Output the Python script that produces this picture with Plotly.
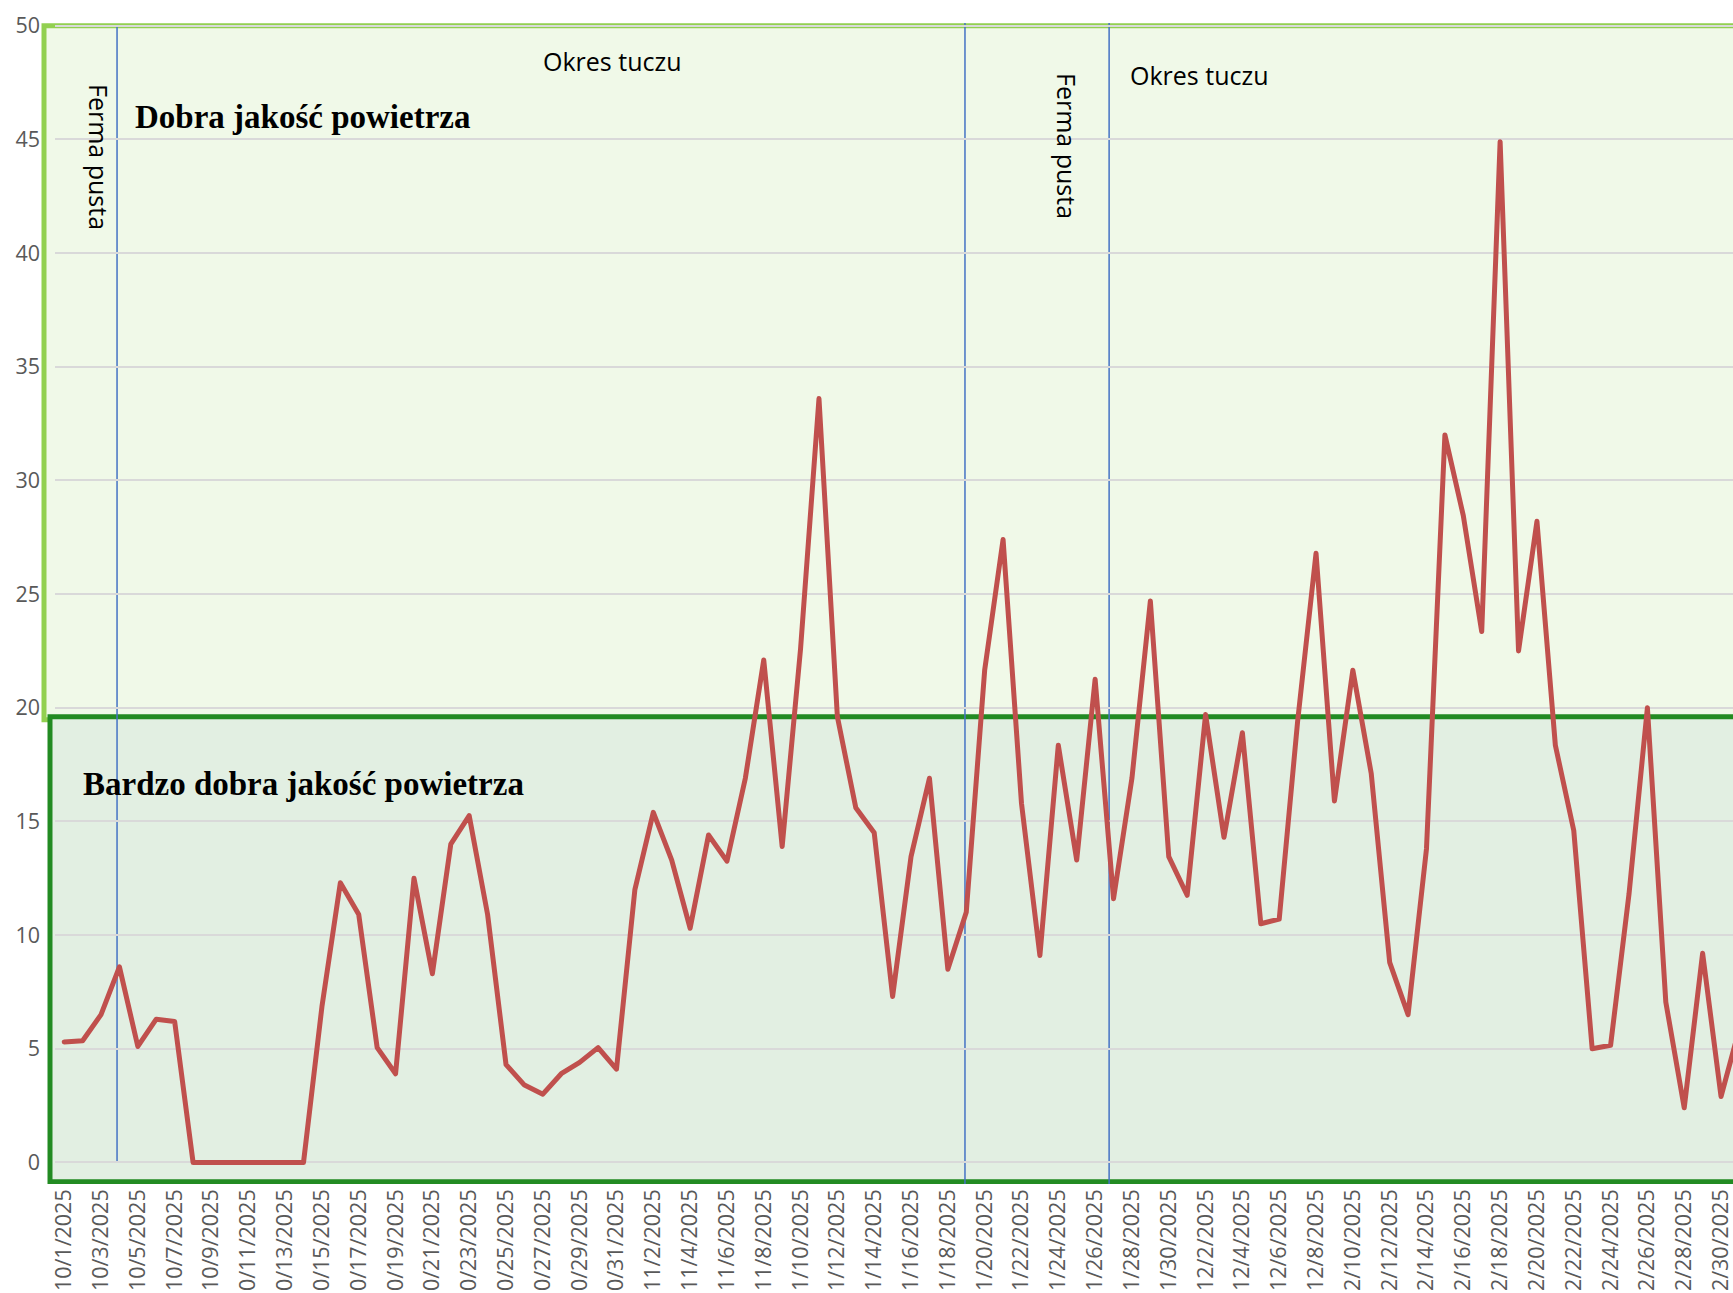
import plotly.graph_objects as go

# ---- data ----
month_days = [(10, 31), (11, 30), (12, 31)]
categories = [f"{m}/{d}/2025" for m, n in month_days for d in range(1, n + 1)]

pm_values = [
    5.3, 5.35, 6.5, 8.6, 5.1, 6.3, 6.2,
    0, 0, 0, 0, 0, 0, 0,
    6.85, 12.3, 10.9, 5.05, 3.9, 12.5, 8.3, 14.0, 15.25, 10.9, 4.3, 3.4, 3.0, 3.9, 4.4, 5.05, 4.1,
    12.0, 15.4, 13.3, 10.3, 14.4, 13.25, 16.9, 22.1, 13.9, 22.6, 33.6, 19.6, 15.6, 14.5, 7.3,
    13.45, 16.9, 8.5, 11.0, 21.65, 27.4, 15.8, 9.1, 18.35, 13.3, 21.25, 11.6, 16.9, 24.7, 13.45,
    11.75,
    19.7, 14.3, 18.9, 10.5, 10.7, 19.4, 26.8, 15.9, 21.65, 17.1, 8.8, 6.5, 13.8, 32.0, 28.45,
    23.35, 44.9, 22.5, 28.2, 18.35, 14.6, 5.0, 5.15, 11.8, 20.0, 7.05, 2.4, 9.2, 2.9, 5.9,
]

tick_labels = categories[::2]
y_ticks = [0, 5, 10, 15, 20, 25, 30, 35, 40, 45, 50]

# quality bands (value limits)
good_band = (19.47, 50.0)
very_good_band = (-0.85, 19.6)

# events (category-index positions of the vertical markers)
event_positions = [2.87, 48.93, 56.76]

W, H = 1733, 1293
ML, MR, MT, MB = 55, 0, 23, 109
PW = W - ML - MR
PH = H - MT - MB


def px_x(px):
    return (px - ML) / PW


def px_y(py):
    return (H - MB - py) / PH


fig = go.Figure()
fig.add_trace(go.Scatter(
    x=categories, y=pm_values, mode="lines",
    line=dict(color="#C0504D", width=5),
    showlegend=False, hoverinfo="skip",
))

shapes = [
    dict(type="rect", xref="paper", yref="y", x0=px_x(44), x1=1.02,
         y0=good_band[0], y1=good_band[1],
         fillcolor="#F0F9E8", line=dict(color="#92D050", width=5), layer="below"),
    dict(type="rect", xref="paper", yref="y", x0=px_x(50), x1=1.02,
         y0=very_good_band[0], y1=very_good_band[1],
         fillcolor="#E2EFE2", line=dict(color="#228B22", width=5), layer="below"),
    dict(type="line", xref="x", yref="y", x0=event_positions[0], x1=event_positions[0],
         y0=0, y1=50, line=dict(color="#4472C4", width=1.5), layer="below"),
    dict(type="line", xref="x", yref="y", x0=event_positions[1], x1=event_positions[1],
         y0=-1.2, y1=50.2, line=dict(color="#4472C4", width=1.5), layer="below"),
    dict(type="line", xref="x", yref="y", x0=event_positions[2], x1=event_positions[2],
         y0=-1.2, y1=50.2, line=dict(color="#4472C4", width=1.5), layer="below"),
]

sans = "Open Sans"
annotations = [
    dict(text="Ferma pusta", textangle=90, x=px_x(99), y=px_y(157),
         font=dict(family=sans, size=25, color="black")),
    dict(text="Ferma pusta", textangle=90, x=px_x(1067), y=px_y(146),
         font=dict(family=sans, size=25, color="black")),
    dict(text="Okres tuczu", x=px_x(612), y=px_y(61),
         font=dict(family=sans, size=25, color="black")),
    dict(text="Okres tuczu", x=px_x(1199), y=px_y(75),
         font=dict(family=sans, size=25, color="black")),
    dict(text="<b>Dobra jakość powietrza</b>", x=px_x(133), y=px_y(117), xanchor="left",
         font=dict(family="Liberation Serif", size=33, color="black")),
    dict(text="<b>Bardzo dobra jakość powietrza</b>", x=px_x(81), y=px_y(784), xanchor="left",
         font=dict(family="Liberation Serif", size=33, color="black")),
]
for a in annotations:
    a.update(xref="paper", yref="paper", showarrow=False)
    a.setdefault("xanchor", "center")
    a.setdefault("yanchor", "middle")

tick_font = dict(family="Open Sans", size=21.5, color="#595959")

fig.update_layout(
    width=W, height=H,
    margin=dict(l=ML, r=MR, t=MT, b=MB, pad=0, autoexpand=False),
    paper_bgcolor="white",
    plot_bgcolor="rgba(0,0,0,0)",
    shapes=shapes,
    annotations=annotations,
    xaxis=dict(
        type="category", range=[-0.5, 90.65],
        tickmode="array", tickvals=tick_labels, ticktext=tick_labels,
        tickangle=-90, tickfont=tick_font, ticks="",
        showgrid=False, showline=False, zeroline=False,
        ticklabelstandoff=0, automargin=False,
    ),
    yaxis=dict(
        range=[-0.95, 50.12], tickmode="array", tickvals=y_ticks,
        tickfont=tick_font, ticks="",
        showgrid=True, gridcolor="#D9D9D9", gridwidth=1.5,
        zeroline=True, zerolinecolor="#D9D9D9", zerolinewidth=1.5,
        showline=False, ticklabelstandoff=14, automargin=False,
    ),
)

post = """
document.body.style.margin = '0';
document.body.style.padding = '0';
document.documentElement.style.overflow = 'hidden';
document.querySelectorAll('.scatterlayer path.js-line').forEach(function(p){
  p.style.strokeLinejoin = 'round'; p.style.strokeLinecap = 'round';
});
"""
fig.write_html("out.html", post_script=post, config={"displayModeBar": False})
